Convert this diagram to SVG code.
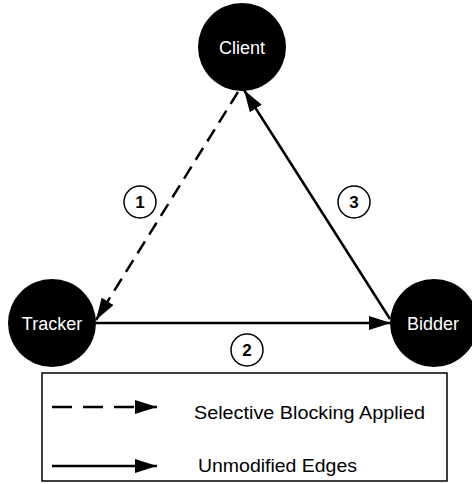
<svg xmlns="http://www.w3.org/2000/svg" width="472" height="484" viewBox="0 0 472 484">
  <defs>
    <marker id="arr" markerUnits="userSpaceOnUse" markerWidth="22" markerHeight="14" refX="22" refY="7" orient="auto">
      <path d="M0,0 L22,7 L0,14 z" fill="#000"/>
    </marker>
    <style>
      .node { fill: #000; }
      .lbl { fill: #fff; font-family: "Liberation Sans", Arial, sans-serif; font-size: 18px; text-anchor: middle; }
      .edge { stroke: #000; stroke-width: 2.5; fill: none; }
      .dash { stroke-dasharray: 14 8; }
      .num { fill: #fff; stroke: #000; stroke-width: 1.5; }
      .numt { fill: #000; font-family: "Liberation Sans", Arial, sans-serif; font-size: 17px; font-weight: bold; text-anchor: middle; }
      .leg { fill: #000; font-family: "Liberation Sans", Arial, sans-serif; font-size: 18px; }
    </style>
  </defs>
  <rect width="472" height="484" fill="#fff"/>

  <g id="connectors">
    <line class="edge dash" x1="238" y1="92" x2="96" y2="320" marker-end="url(#arr)"/>
    <line class="edge" x1="96" y1="323" x2="391" y2="323" marker-end="url(#arr)"/>
    <line class="edge" x1="390" y1="319" x2="244" y2="90" marker-end="url(#arr)"/>
  </g>

  <g id="client">
    <circle class="node" cx="242" cy="47" r="44"/>
    <text class="lbl" x="242" y="54">Client</text>
  </g>
  <g id="tracker">
    <circle class="node" cx="52" cy="323" r="44"/>
    <text class="lbl" x="52" y="330">Tracker</text>
  </g>
  <g id="bidder">
    <circle class="node" cx="434" cy="323" r="44"/>
    <text class="lbl" x="433" y="330">Bidder</text>
  </g>

  <g id="label1">
    <circle class="num" cx="140" cy="202" r="16"/>
    <text class="numt" x="140" y="208">1</text>
  </g>
  <g id="label2">
    <circle class="num" cx="247" cy="350" r="16"/>
    <text class="numt" x="247" y="356">2</text>
  </g>
  <g id="label3">
    <circle class="num" cx="354" cy="202" r="16"/>
    <text class="numt" x="354" y="208">3</text>
  </g>

  <g id="legend">
    <rect x="42" y="373" width="405" height="108" fill="none" stroke="#000" stroke-width="1.5"/>
    <line class="edge" x1="52" y1="407" x2="157" y2="407" stroke-dasharray="20 11" marker-end="url(#arr)"/>
    <line class="edge" x1="52" y1="466" x2="157" y2="466" marker-end="url(#arr)"/>
    <text class="leg" x="194" y="419" textLength="231" lengthAdjust="spacingAndGlyphs">Selective Blocking Applied</text>
    <text class="leg" x="198" y="472" textLength="159" lengthAdjust="spacingAndGlyphs">Unmodified Edges</text>
  </g>
</svg>
